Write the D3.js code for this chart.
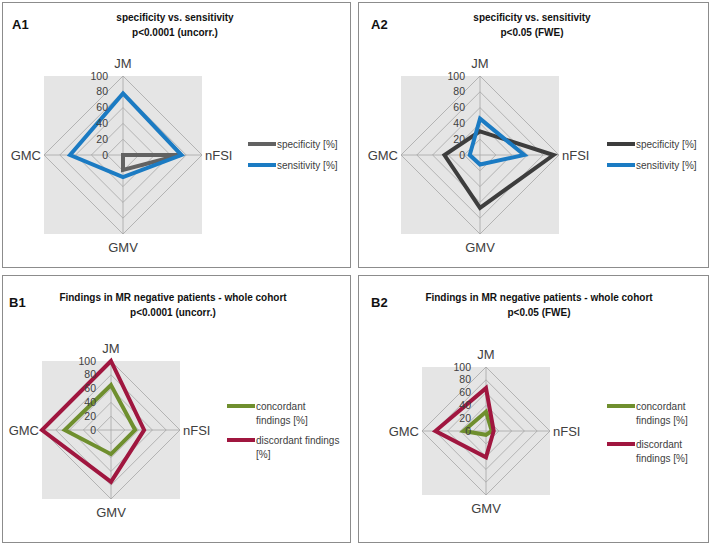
<!DOCTYPE html>
<html>
<head>
<meta charset="utf-8">
<script src="https://cdn.jsdelivr.net/npm/d3@7"></script>
<style>
body{margin:0;background:#fff;}
svg{display:block;font-family:"Liberation Sans",Arial,sans-serif;}
</style>
</head>
<body>
<svg id="chart" width="709" height="544"></svg>
<script>
// ---- data ----
const axes = ["JM", "nFSI", "GMV", "GMC"];
const ticks = [0, 20, 40, 60, 80, 100];

const a1Names = ["specificity [%]", "sensitivity [%]"];
const a1Specificity = [0, 72, 19, 0];
const a1Sensitivity = [78, 74, 28, 67];

const a2Names = ["specificity [%]", "sensitivity [%]"];
const a2Specificity = [30, 93, 67, 45];
const a2Sensitivity = [46, 56, 12, 13];

const b1Names = [["concordant", "findings [%]"], ["discordant findings", "[%]"]];
const b1Concordant = [65, 35, 35, 67];
const b1Discordant = [100, 48, 75, 100];

const b2Names = [["concordant", "findings [%]"], ["discordant", "findings [%]"]];
const b2Concordant = [30, 9, 6, 35];
const b2Discordant = [67, 12, 41, 79];

// ---- layout ----
const svg = d3.select("#chart");

const panels = [
  {box:[2,2,348,265], tag:"A1", tagX:12, tagY:29, title:["specificity vs. sensitivity","p<0.0001 (uncorr.)"], titleX:175, titleY:[20.5,35.5],
   cx:123, cy:155, r:79, names:a1Names, series:[a1Specificity, a1Sensitivity], colors:["#626262","#1b7bc3"],
   legX:248, legY:[144,165], legW:28},
  {box:[358,2,350,265], tag:"A2", tagX:371, tagY:29, title:["specificity vs. sensitivity","p<0.05 (FWE)"], titleX:532, titleY:[20.5,35.5],
   cx:480, cy:155, r:79, names:a2Names, series:[a2Specificity, a2Sensitivity], colors:["#3d3d3d","#1b7bc3"],
   legX:607, legY:[144,165], legW:28},
  {box:[2,275,348,267], tag:"B1", tagX:9, tagY:307, title:["Findings in MR negative patients - whole cohort","p<0.0001 (uncorr.)"], titleX:173, titleY:[300.5,315.5],
   cx:111, cy:430, r:69, names:b1Names, series:[b1Concordant, b1Discordant], colors:["#6f8f2e","#a0163f"],
   legX:227, legY:[406,440], legW:28},
  {box:[358,275,350,267], tag:"B2", tagX:371, tagY:307, title:["Findings in MR negative patients - whole cohort","p<0.05 (FWE)"], titleX:539, titleY:[300.5,315.5],
   cx:486, cy:431, r:64, names:b2Names, series:[b2Concordant, b2Discordant], colors:["#6f8f2e","#a0163f"],
   legX:607, legY:[406,444], legW:28}
];

const angle = d3.scalePoint().domain(axes).range([0, 2*Math.PI * 3/4]);

panels.forEach(p => {
  const g = svg.append("g");
  g.append("rect").attr("x", p.box[0]+0.5).attr("y", p.box[1]+0.5)
    .attr("width", p.box[2]).attr("height", p.box[3])
    .attr("fill", "#fff").attr("stroke", "#8c8c8c").attr("stroke-width", 1);

  g.append("text").attr("x", p.tagX).attr("y", p.tagY).text(p.tag)
    .attr("font-size", 13).attr("font-weight", "bold").attr("fill", "#111");

  p.title.forEach((t, i) => {
    g.append("text").attr("x", p.titleX).attr("y", p.titleY[i]).text(t)
      .attr("text-anchor", "middle").attr("font-size", 10).attr("font-weight", "bold").attr("fill", "#111");
  });

  const rScale = d3.scaleLinear().domain([0, 100]).range([0, p.r]);
  const chart = g.append("g").attr("transform", `translate(${p.cx},${p.cy})`);

  chart.append("rect").attr("x", -p.r).attr("y", -p.r).attr("width", 2*p.r).attr("height", 2*p.r)
    .attr("fill", "#e5e5e5");

  const line = d3.lineRadial().angle(d => angle(d.axis)).radius(d => rScale(d.value)).curve(d3.curveLinearClosed);

  // grid rings
  ticks.filter(t => t > 0).forEach(t => {
    chart.append("path").attr("d", line(axes.map(a => ({axis:a, value:t}))))
      .attr("fill", "none").attr("stroke", "#a6a6a6").attr("stroke-width", 0.8);
  });
  // spokes
  axes.forEach(a => {
    const ang = angle(a);
    chart.append("line").attr("x1", 0).attr("y1", 0)
      .attr("x2", rScale(100)*Math.sin(ang)).attr("y2", -rScale(100)*Math.cos(ang))
      .attr("stroke", "#a6a6a6").attr("stroke-width", 0.8);
  });

  // series
  p.series.forEach((vals, i) => {
    chart.append("path").attr("d", line(axes.map((a, k) => ({axis:a, value:vals[k]}))))
      .attr("fill", "none").attr("stroke", p.colors[i]).attr("stroke-width", 4)
      .attr("stroke-linejoin", "miter");
  });

  // tick labels
  ticks.forEach(t => {
    chart.append("text").attr("x", -15).attr("y", -rScale(t)).attr("dy", "0.35em")
      .attr("text-anchor", "end").attr("font-size", 10.5).attr("fill", "#404040").text(t);
  });

  // axis labels
  axes.forEach(a => {
    const ang = angle(a);
    const s = Math.sin(ang), c = Math.cos(ang);
    let x = (p.r + 3) * s, y = -(p.r) * c, anchor = "middle", dy = "0.35em";
    if (Math.abs(c) > 0.5) { y = c > 0 ? -p.r - 13 : p.r + 13; x = 0; }
    else { anchor = s > 0 ? "start" : "end"; }
    chart.append("text").attr("x", x).attr("y", y).attr("dy", dy)
      .attr("text-anchor", anchor).attr("font-size", 13).attr("fill", "#404040").text(a);
  });

  // legend
  p.names.forEach((n, i) => {
    const y = p.legY[i];
    g.append("line").attr("x1", p.legX).attr("x2", p.legX + p.legW).attr("y1", y).attr("y2", y)
      .attr("stroke", p.colors[i]).attr("stroke-width", 4);
    const lines = Array.isArray(n) ? n : [n];
    const txt = g.append("text").attr("x", p.legX + p.legW + 1).attr("y", y).attr("dy", "0.35em")
      .attr("font-size", 10).attr("fill", "#404040");
    lines.forEach((l, j) => {
      txt.append("tspan").attr("x", p.legX + p.legW + 1).attr("dy", j === 0 ? "0.35em" : 14).text(l);
    });
  });
});
</script>
</body>
</html>
